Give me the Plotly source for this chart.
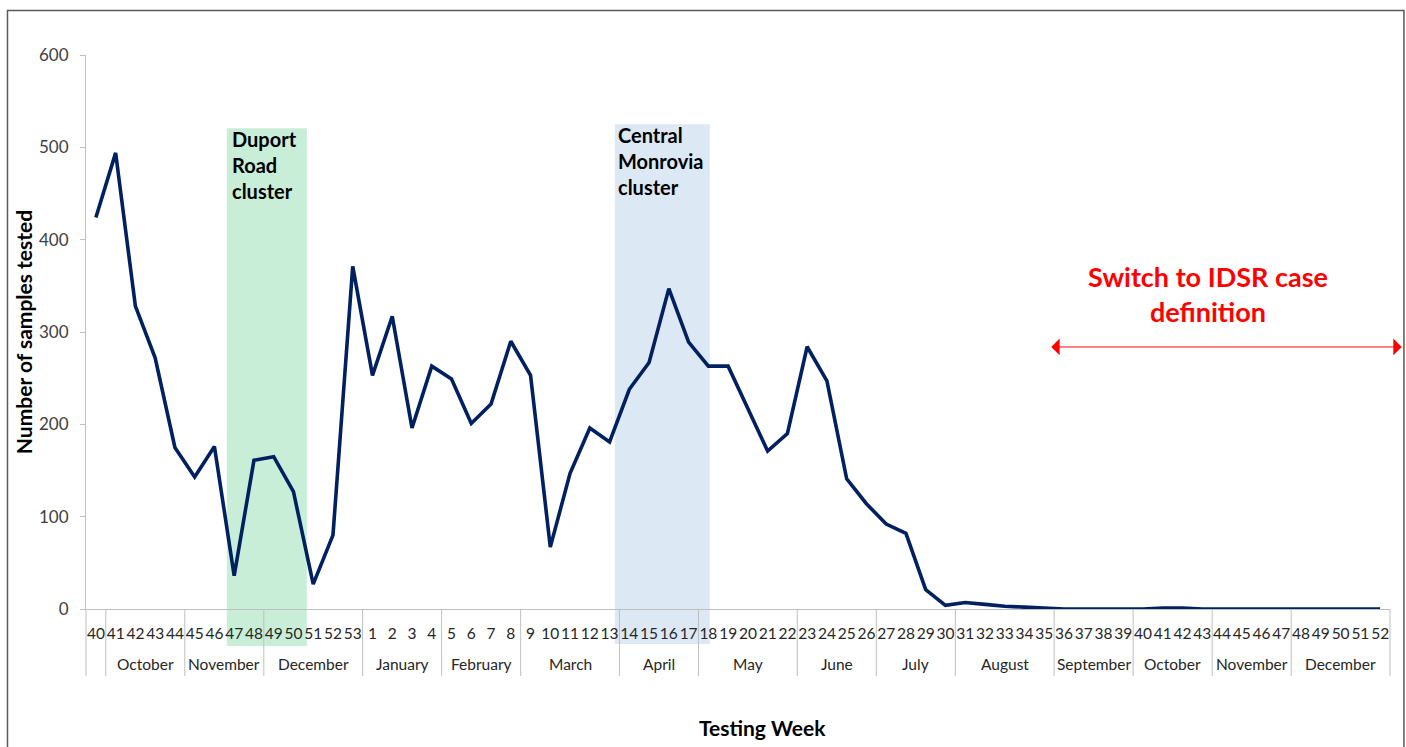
import plotly.graph_objects as go

# ---------------- data ----------------
weeks_2014 = ["40", "41", "42", "43", "44", "45", "46", "47", "48", "49", "50", "51", "52", "53"]
weeks_2015 = [str(w) for w in range(1, 53)]
week_labels = weeks_2014 + weeks_2015

month_names = ["", "October", "November", "December",
               "January", "February", "March", "April", "May", "June", "July", "August",
               "September", "October", "November", "December"]
month_week_counts = [1, 4, 4, 5, 4, 4, 5, 4, 5, 4, 4, 5, 4, 4, 4, 5]

samples_2014 = [424, 494, 328, 272, 175, 143, 176, 36, 161, 165, 127, 27, 80, 371]
samples_2015 = [253, 317, 196, 263, 249, 201, 222, 290, 253, 67,
                147, 196, 181, 238, 267, 347, 289, 263, 263, 216,
                171, 190, 284, 247, 141, 114, 92, 82, 21, 4,
                7, 5, 3, 2, 1, 0, 0, 0, 0, 0,
                1, 1, 0, 0, 0, 0, 0, 0, 0, 0, 0, 0]
samples = samples_2014 + samples_2015

FONT = "Lato, 'Open Sans', sans-serif"
x_idx = list(range(len(week_labels)))
X_RANGE = [-0.5, len(week_labels) - 0.5]

fig = go.Figure()
fig.add_trace(go.Scatter(
    x=x_idx,
    y=samples,
    customdata=week_labels,
    mode="lines",
    line=dict(color="#002060", width=3.6),
    showlegend=False,
    hovertemplate="Week %{customdata}: %{y}<extra></extra>",
))

# cluster highlight bands (x in week index units)
fig.add_shape(type="rect", xref="x", yref="paper", x0=6.63, x1=10.68, y0=-0.067, y1=0.868,
              fillcolor="#c9eed8", line=dict(width=0), layer="below")
fig.add_shape(type="rect", xref="x", yref="paper", x0=26.27, x1=31.07, y0=-0.063, y1=0.875,
              fillcolor="#dde8f5", line=dict(width=0), layer="below")

# month group dividers and month labels
span = X_RANGE[1] - X_RANGE[0]
start = 0
bounds = [start - 0.5]
for name, n in zip(month_names, month_week_counts):
    end = start + n
    bounds.append(end - 0.5)
    if name:
        fig.add_annotation(xref="x", yref="paper", x=(start + end - 1) / 2, y=-0.0995,
                           xanchor="center", yanchor="middle", text=name, showarrow=False,
                           font=dict(family=FONT, size=15.5, color="#262626"))
    start = end
for b in bounds:
    xp = (b - X_RANGE[0]) / span
    fig.add_shape(type="line", xref="paper", yref="paper", x0=xp, x1=xp, y0=0, y1=-0.121,
                  line=dict(color="#bfbfbf", width=1))

# chart border
fig.add_shape(type="rect", xref="paper", yref="paper", x0=-0.0602, x1=1.0107, y0=-0.3, y1=1.0803,
              line=dict(color="#595959", width=1.5), fillcolor="rgba(0,0,0,0)")

fig.add_annotation(xref="x", yref="paper", x=6.78, y=0.874, xanchor="left", yanchor="top",
                   text="<b>Duport<br>Road<br>cluster</b>", showarrow=False, align="left",
                   font=dict(family=FONT, size=20, color="#000000"))
fig.add_annotation(xref="x", yref="paper", x=26.35, y=0.881, xanchor="left", yanchor="top",
                   text="<b>Central<br>Monrovia<br>cluster</b>", showarrow=False, align="left",
                   font=dict(family=FONT, size=20, color="#000000"))

fig.add_annotation(xref="paper", yref="paper", x=0.8604, y=0.5686, xanchor="center", yanchor="middle",
                   text="<b>Switch to IDSR case<br>definition</b>", showarrow=False, align="center",
                   font=dict(family=FONT, size=27, color="#ff0000"))

# double-headed arrow
fig.add_annotation(xref="paper", yref="paper", x=1.009, y=0.473, ax=-352, ay=0,
                   axref="pixel", ayref="pixel", text="", showarrow=True,
                   arrowside="end+start", arrowhead=1, arrowsize=2.8, arrowwidth=1,
                   arrowcolor="#ff0000", standoff=0, startstandoff=0)

# x axis title
fig.add_annotation(xref="paper", yref="paper", x=0.519, y=-0.213, xanchor="center", yanchor="middle",
                   text="<b>Testing Week</b>", showarrow=False,
                   font=dict(family=FONT, size=21, color="#000000"))

fig.update_layout(
    width=1406, height=747,
    margin=dict(l=86, r=16, t=55, b=138),
    paper_bgcolor="white", plot_bgcolor="white",
    font=dict(family=FONT, color="#262626"),
    xaxis=dict(
        range=X_RANGE,
        tickmode="array", tickvals=x_idx, ticktext=week_labels,
        showline=True, linecolor="#bfbfbf", linewidth=1,
        showgrid=False, zeroline=False, ticks="", tickangle=0,
        ticklabelstandoff=10,
        tickfont=dict(family=FONT, size=15.5, color="#262626"),
        automargin=False,
    ),
    yaxis=dict(
        range=[0, 600], dtick=100, tick0=0,
        showline=True, linecolor="#bfbfbf", linewidth=1,
        showgrid=False, zeroline=False,
        ticks="outside", ticklen=5, tickcolor="#bfbfbf",
        ticklabelstandoff=8,
        tickfont=dict(family=FONT, size=17, color="#404040"),
        title=dict(text="<b>Number of samples tested</b>", standoff=0,
                   font=dict(family=FONT, size=21, color="#000000")),
        automargin=False,
    ),
)

fig.write_html("out.html", config={"displayModeBar": False},
               post_script="document.body.style.margin='0px';")
